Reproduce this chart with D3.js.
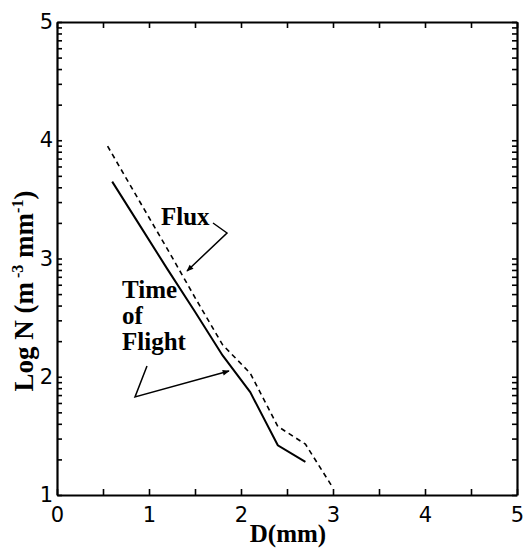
<!DOCTYPE html>
<html>
<head>
<meta charset="utf-8">
<script src="https://cdn.jsdelivr.net/npm/d3@7"></script>
<style>
  body { margin: 0; background: #fff; }
  svg { display: block; }
</style>
</head>
<body>
<svg id="chart" width="529" height="548"></svg>
<script>
// drop diameter (mm) and log10 of number density
const flightD = [0.6, 0.9, 1.2, 1.5, 1.8, 2.1, 2.4, 2.7];
const flightLogN = [3.65, 3.28, 2.91, 2.55, 2.18, 1.87, 1.42, 1.28];
const fluxD = [0.55, 0.9, 1.2, 1.5, 1.8, 2.1, 2.4, 2.7, 3.0];
const fluxLogN = [3.95, 3.48, 3.08, 2.67, 2.27, 2.03, 1.58, 1.43, 1.06];
const xTicks = [0, 1, 2, 3, 4, 5];
const yTicks = [1, 2, 3, 4, 5];

const config = {
  width: 529,
  height: 548,
  margin: { top: 22, right: 12, bottom: 53, left: 57 },
  get usableWidth() {
    return this.width - this.margin.left - this.margin.right;
  },
  get usableHeight() {
    return this.height - this.margin.top - this.margin.bottom;
  }
};

const svg = d3.select("#chart");
const g = svg.append("g")
  .attr("transform", `translate(${config.margin.left},${config.margin.top})`);

const x = d3.scaleLinear().domain([0, 5]).range([0, config.usableWidth]);
const y = d3.scaleLinear().domain([1, 5]).range([config.usableHeight, 0]);

// minor ticks: every 0.5 mm on x, log positions 2..9 within each decade on y
const xAll = d3.range(0, 5.01, 0.5);
const yAll = [];
yTicks.forEach(d => {
  yAll.push(d);
  if (d < 5) d3.range(2, 10).forEach(k => yAll.push(d + Math.log10(k)));
});

const tickFont = "'DejaVu Sans', sans-serif";
const fmtX = d => (xTicks.includes(d) ? d : "");
const fmtY = d => (yTicks.includes(d) ? d : "");

const styleAxis = sel => {
  sel.select(".domain").attr("stroke", "#000").attr("stroke-width", 2.2);
  sel.selectAll(".tick line").attr("stroke", "#000").attr("stroke-width", 1.6);
  sel.selectAll(".tick text")
    .attr("fill", "#000")
    .style("font-family", tickFont)
    .style("font-size", "21px");
};

g.append("g")
  .attr("transform", `translate(0,${config.usableHeight})`)
  .call(d3.axisBottom(x).tickValues(xAll).tickFormat(fmtX).tickSizeInner(-6).tickSizeOuter(0).tickPadding(12))
  .call(styleAxis);

g.append("g")
  .call(d3.axisTop(x).tickValues(xAll).tickFormat("").tickSizeInner(-6).tickSizeOuter(0))
  .call(styleAxis);

g.append("g")
  .call(d3.axisLeft(y).tickValues(yAll).tickFormat(fmtY).tickSizeInner(-5).tickSizeOuter(0).tickPadding(4))
  .call(styleAxis);

g.append("g")
  .attr("transform", `translate(${config.usableWidth},0)`)
  .call(d3.axisRight(y).tickValues(yAll).tickFormat("").tickSizeInner(-5).tickSizeOuter(0))
  .call(styleAxis);

// the two size distributions
const line = d3.line().x(d => x(d[0])).y(d => y(d[1]));

g.append("path")
  .datum(flightD.map((d, i) => [d, flightLogN[i]]))
  .attr("d", line)
  .attr("fill", "none")
  .attr("stroke", "#000")
  .attr("stroke-width", 2);

g.append("path")
  .datum(fluxD.map((d, i) => [d, fluxLogN[i]]))
  .attr("d", line)
  .attr("fill", "none")
  .attr("stroke", "#000")
  .attr("stroke-width", 1.6)
  .attr("stroke-dasharray", "5,4");

// annotations
const labelFont = "'Liberation Serif', 'Times New Roman', serif";

svg.append("defs").append("marker")
  .attr("id", "arrow")
  .attr("viewBox", "0 0 10 10")
  .attr("refX", 9)
  .attr("refY", 5)
  .attr("markerWidth", 9)
  .attr("markerHeight", 7)
  .attr("markerUnits", "userSpaceOnUse")
  .attr("orient", "auto")
  .append("path")
  .attr("d", "M0,1 L10,5 L0,9 Z")
  .attr("fill", "#000");

const note = (text, px, py) =>
  svg.append("text")
    .attr("x", px)
    .attr("y", py)
    .style("font-family", labelFont)
    .style("font-weight", "bold")
    .style("font-size", "25px")
    .attr("fill", "#000")
    .text(text);

note("Flux", 161, 225);
svg.append("polyline")
  .attr("points", "213,223 227,233 187,271")
  .attr("fill", "none")
  .attr("stroke", "#000")
  .attr("stroke-width", 1.5)
  .attr("marker-end", "url(#arrow)");

note("Time", 122, 298);
note("of", 122, 324);
note("Flight", 122, 350);
svg.append("polyline")
  .attr("points", "147,366 135,397 229,371")
  .attr("fill", "none")
  .attr("stroke", "#000")
  .attr("stroke-width", 1.5)
  .attr("marker-end", "url(#arrow)");

// axis titles
svg.append("text")
  .attr("x", 288)
  .attr("y", 542)
  .attr("text-anchor", "middle")
  .style("font-family", labelFont)
  .style("font-weight", "bold")
  .style("font-size", "25px")
  .text("D(mm)");

const yTitle = svg.append("text")
  .attr("transform", "translate(33,291) rotate(-90)")
  .attr("text-anchor", "middle")
  .style("font-family", labelFont)
  .style("font-weight", "bold")
  .style("font-size", "27px");
yTitle.append("tspan").text("Log N (m");
yTitle.append("tspan").attr("dy", -10).style("font-size", "16px").text(" -3");
yTitle.append("tspan").attr("dy", 10).text(" mm");
yTitle.append("tspan").attr("dy", -10).style("font-size", "16px").text("-1");
yTitle.append("tspan").attr("dy", 10).text(")");
</script>
</body>
</html>
